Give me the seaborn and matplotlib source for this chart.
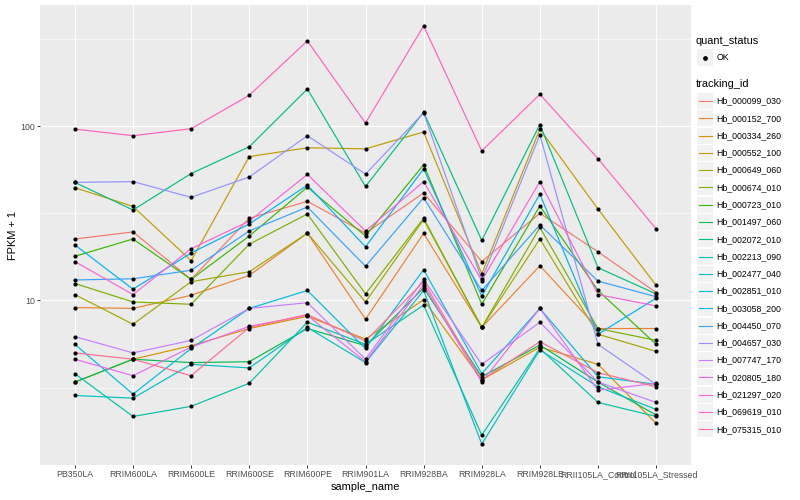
import numpy as np
import pandas as pd
import matplotlib
matplotlib.use('Agg')
import matplotlib.pyplot as plt
import seaborn as sns
from matplotlib.patches import Rectangle
from matplotlib.lines import Line2D
from matplotlib.ticker import FixedLocator, NullFormatter

samples = ['PB350LA', 'RRIM600LA', 'RRIM600LE', 'RRIM600SE', 'RRIM600PE', 'RRIM901LA',
           'RRIM928BA', 'RRIM928LA', 'RRIM928LE', 'RRII105LA_Control', 'RRII105LA_Stressed']

ids = ['Hb_000099_030', 'Hb_000152_700', 'Hb_000334_260', 'Hb_000552_100', 'Hb_000649_060',
       'Hb_000674_010', 'Hb_000723_010', 'Hb_001497_060', 'Hb_002072_010', 'Hb_002213_090',
       'Hb_002477_040', 'Hb_002851_010', 'Hb_003058_200', 'Hb_004450_070', 'Hb_004657_030',
       'Hb_007747_170', 'Hb_020805_180', 'Hb_021297_020', 'Hb_069619_010', 'Hb_075315_010']

# ggplot hue palette, 20 levels
hue_colors = ['#F8766D', '#EA8331', '#D89000', '#C09B00', '#A3A500', '#7CAE00', '#39B600',
              '#00BB4E', '#00BF7D', '#00C1A3', '#00BFC4', '#00BAE0', '#00B0F6', '#35A2FF',
              '#9590FF', '#C77CFF', '#E76BF3', '#FA62DB', '#FF62BC', '#FF6C91']

# FPKM + 1 per sample
hb_000099_030 = [22.5, 24.7, 13.2, 29.6, 37.0, 24.3, 41.3, 16.7, 31.6, 19.0, 11.1]
hb_000152_700 = [9.1, 9.0, 10.7, 13.9, 24.3, 7.8, 24.2, 7.0, 15.8, 6.9, 6.9]
hb_000334_260 = [3.4, 4.6, 5.5, 6.9, 8.1, 6.0, 10.1, 3.5, 5.4, 4.3, 1.97]
hb_000552_100 = [44.3, 34.6, 16.9, 66.8, 75.0, 74.0, 92.4, 14.2, 96.0, 33.4, 12.2]
hb_000649_060 = [10.8, 7.3, 12.8, 14.6, 24.3, 9.8, 29.1, 7.0, 22.5, 6.4, 5.1]
hb_000674_010 = [12.5, 9.8, 9.5, 21.0, 31.3, 10.9, 29.6, 7.0, 26.2, 6.9, 5.9]
hb_000723_010 = [17.9, 22.5, 13.2, 23.4, 44.6, 23.4, 60.0, 9.5, 34.8, 11.4, 5.6]
hb_001497_060 = [3.4, 4.6, 4.4, 4.45, 6.9, 5.5, 11.8, 3.65, 5.55, 3.4, 2.2]
hb_002072_010 = [47.5, 33.0, 53.4, 76.0, 163.0, 45.0, 120.0, 22.1, 102.0, 15.4, 10.9]
hb_002213_090 = [3.8, 2.16, 2.47, 3.35, 7.5, 5.6, 9.4, 1.69, 5.3, 2.6, 2.16]
hb_002477_040 = [2.85, 2.75, 4.3, 4.1, 7.0, 4.4, 11.4, 1.5, 5.2, 3.2, 2.37]
hb_002851_010 = [5.6, 2.9, 5.3, 9.0, 11.4, 5.3, 15.0, 3.8, 9.0, 3.65, 3.3]
hb_003058_200 = [20.8, 11.6, 18.7, 27.4, 45.8, 20.3, 56.8, 10.6, 40.7, 6.4, 10.3]
hb_004450_070 = [13.1, 13.3, 14.9, 25.0, 34.3, 15.7, 38.8, 11.4, 27.1, 12.9, 10.5]
hb_004657_030 = [47.5, 48.0, 39.0, 51.0, 88.0, 53.0, 119.0, 13.2, 89.0, 5.6, 3.3]
hb_007747_170 = [6.2, 5.0, 5.9, 9.0, 9.7, 4.6, 13.2, 4.3, 7.5, 3.4, 2.6]
hb_020805_180 = [4.6, 3.7, 5.4, 7.1, 8.2, 4.45, 12.3, 3.4, 9.0, 3.05, 3.35]
hb_021297_020 = [16.7, 10.8, 19.8, 28.5, 52.8, 25.0, 48.0, 13.0, 48.0, 10.8, 9.3]
hb_069619_010 = [96.0, 88.0, 96.5, 150.0, 308.0, 104.0, 375.0, 72.0, 152.0, 65.0, 25.7]
hb_075315_010 = [5.0, 4.6, 3.7, 7.0, 8.3, 5.85, 12.8, 3.5, 5.8, 3.85, 3.2]

series = [hb_000099_030, hb_000152_700, hb_000334_260, hb_000552_100, hb_000649_060,
          hb_000674_010, hb_000723_010, hb_001497_060, hb_002072_010, hb_002213_090,
          hb_002477_040, hb_002851_010, hb_003058_200, hb_004450_070, hb_004657_030,
          hb_007747_170, hb_020805_180, hb_021297_020, hb_069619_010, hb_075315_010]

df = pd.DataFrame({
    'sample_name': samples * len(ids),
    'tracking_id': np.repeat(ids, len(samples)),
    'fpkm1': np.concatenate(series),
    'quant_status': 'OK',
})

plt.rcParams['font.family'] = ['Liberation Sans', 'DejaVu Sans']

W, H = 800, 500
fig = plt.figure(figsize=(8, 5), dpi=100)
ax = fig.add_axes([40 / W, 35 / H, 651 / W, 460 / H])
ax.set_facecolor('#EBEBEB')

sns.lineplot(data=df, x='sample_name', y='fpkm1', hue='tracking_id',
             palette=dict(zip(ids, hue_colors)), estimator=None, sort=False,
             legend=False, lw=0.85, ax=ax)
sns.scatterplot(data=df, x='sample_name', y='fpkm1', color='black', s=9,
                linewidth=0, legend=False, ax=ax, zorder=5)

ax.set_yscale('log')
lo, hi = np.log10(df['fpkm1'].min()), np.log10(df['fpkm1'].max())
pad = 0.05 * (hi - lo)
ax.set_ylim(10 ** (lo - pad), 10 ** (hi + pad))
ax.set_xlim(-0.6, len(samples) - 0.4)

ax.set_yticks([10, 100])
ax.set_yticklabels(['10', '100'])
ax.yaxis.set_minor_locator(FixedLocator([10 ** 0.5, 10 ** 1.5, 10 ** 2.5]))
ax.yaxis.set_minor_formatter(NullFormatter())
ax.grid(which='major', color='white', lw=0.8)
ax.grid(which='minor', axis='y', color='white', lw=0.45)
ax.set_axisbelow(True)
for s in ax.spines.values():
    s.set_visible(False)
ax.tick_params(which='major', length=2, width=0.7, color='#333333',
               labelcolor='#4D4D4D', labelsize=6.3, pad=1.5)
ax.tick_params(which='minor', length=0)

ax.set_xlabel('sample_name', fontsize=7.9, labelpad=2)
ax.set_ylabel('FPKM + 1', fontsize=7.9, labelpad=2)


def fx(px):
    return px / W


def fy(py):
    return 1 - py / H


# legend: quant_status
fig.text(fx(696), fy(40.7), 'quant_status', fontsize=7.9, va='center')
fig.add_artist(Rectangle((fx(697), fy(65.5)), 16 / W, 16 / H, facecolor='#F2F2F2',
                         edgecolor='none', transform=fig.transFigure))
fig.add_artist(Line2D([fx(705)], [fy(57.5)], marker='o', ms=2.4, color='black',
                      lw=0, transform=fig.transFigure))
fig.text(fx(716.5), fy(57.5), 'OK', fontsize=6.3, va='center')

# legend: tracking_id
fig.text(fx(696), fy(84.3), 'tracking_id', fontsize=7.9, va='center')
for i, (tid, col) in enumerate(zip(ids, hue_colors)):
    cy = 101 + 17.28 * i
    fig.add_artist(Rectangle((fx(697), fy(cy + 8)), 16 / W, 16 / H, facecolor='#F2F2F2',
                             edgecolor='none', transform=fig.transFigure))
    fig.add_artist(Line2D([fx(698.5), fx(711.5)], [fy(cy), fy(cy)], color=col, lw=0.8,
                          transform=fig.transFigure))
    fig.text(fx(716.5), fy(cy), tid, fontsize=6.3, va='center')

fig.savefig('out.png', dpi=100)
